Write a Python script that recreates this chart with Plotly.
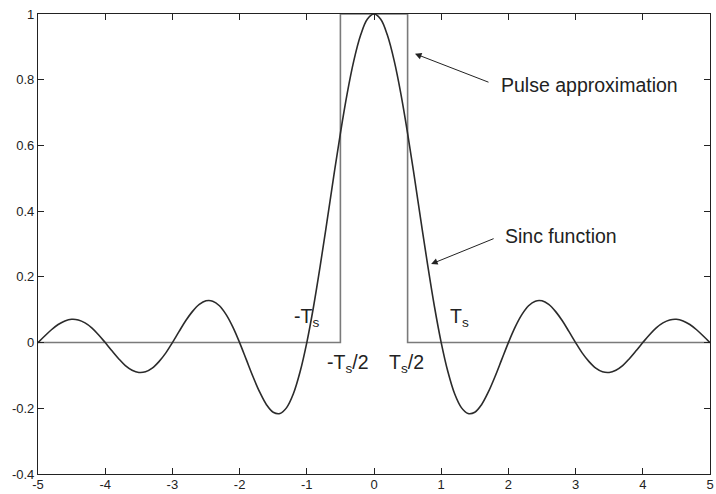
import plotly.graph_objects as go

# Sinc curve samples (x step 0.1, symmetric about 0)
sinc_x = [round(-5 + 0.1 * i, 1) for i in range(101)]
sinc_half = [1.000, 0.984, 0.935, 0.858, 0.757, 0.637, 0.505, 0.368, 0.234, 0.109,
             0.000, -0.089, -0.156, -0.198, -0.216, -0.212, -0.189, -0.151, -0.104, -0.052,
             0.000, 0.047, 0.085, 0.112, 0.126, 0.127, 0.116, 0.095, 0.067, 0.034,
             0.000, -0.032, -0.058, -0.078, -0.089, -0.091, -0.084, -0.070, -0.049, -0.025,
             0.000, 0.024, 0.045, 0.060, 0.069, 0.071, 0.066, 0.055, 0.039, 0.020,
             0.000]
sinc_y = sinc_half[::-1] + sinc_half[1:]

# Pulse approximation
pulse_x = [-5, -0.5, -0.5, 0.5, 0.5, 5]
pulse_y = [0, 0, 1, 1, 0, 0]

x_ticks = [-5, -4, -3, -2, -1, 0, 1, 2, 3, 4, 5]
y_ticks = [-0.4, -0.2, 0, 0.2, 0.4, 0.6, 0.8, 1]
y_tick_text = ["-0.4", "-0.2", "0", "0.2", "0.4", "0.6", "0.8", "1"]

FONT = "Liberation Sans, Arial, Helvetica, sans-serif"
TXT = dict(size=19.5, color="#222", family=FONT)

fig = go.Figure()
fig.add_trace(go.Scatter(x=pulse_x, y=pulse_y, mode="lines",
                         line=dict(color="#7a7a7a", width=1.6), showlegend=False))
fig.add_trace(go.Scatter(x=sinc_x, y=sinc_y, mode="lines", line_shape="spline",
                         line=dict(color="#2b2b2b", width=1.6), showlegend=False))

annotations = [
    # arrows
    dict(x=0.61, y=0.879, ax=75, ay=29, text="", showarrow=True, arrowhead=2,
         arrowsize=1.3, arrowwidth=1, arrowcolor="#222"),
    dict(x=0.85, y=0.239, ax=64, ay=-26, text="", showarrow=True, arrowhead=2,
         arrowsize=1.3, arrowwidth=1, arrowcolor="#222"),
    # text labels
    dict(x=1.86, y=0.785, text="Pulse approximation", showarrow=False, xanchor="left",
         yanchor="middle", font=TXT),
    dict(x=1.92, y=0.324, text="Sinc function", showarrow=False, xanchor="left",
         yanchor="middle", font=TXT),
    dict(x=-1.01, y=0.076, text="-T<sub>s</sub>", showarrow=False, xanchor="center",
         yanchor="middle", font=TXT),
    dict(x=1.27, y=0.076, text="T<sub>s</sub>", showarrow=False, xanchor="center",
         yanchor="middle", font=TXT),
    dict(x=-0.394, y=-0.064, text="-T<sub>s</sub>/2", showarrow=False, xanchor="center",
         yanchor="middle", font=TXT),
    dict(x=0.48, y=-0.064, text="T<sub>s</sub>/2", showarrow=False, xanchor="center",
         yanchor="middle", font=TXT),
]

axis_common = dict(showline=True, linecolor="#222", linewidth=1.2, mirror="ticks",
                   ticks="inside", ticklen=6, tickcolor="#222", tickwidth=1,
                   showgrid=False, zeroline=False, automargin=False,
                   tickfont=dict(size=13, color="#222", family=FONT))

fig.update_layout(
    width=716, height=494,
    margin=dict(l=38, r=6, t=14, b=20, autoexpand=False),
    paper_bgcolor="white", plot_bgcolor="white",
    xaxis=dict(range=[-5, 5], tickvals=x_ticks, ticktext=[str(v) for v in x_ticks],
               ticklabelstandoff=-2, **axis_common),
    yaxis=dict(range=[-0.4, 1], tickvals=y_ticks, ticktext=y_tick_text, **axis_common),
    annotations=annotations,
)

fig.write_html("out.html")
